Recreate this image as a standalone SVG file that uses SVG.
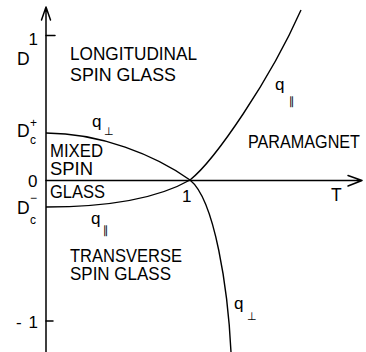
<svg xmlns="http://www.w3.org/2000/svg" width="366" height="352" viewBox="0 0 366 352">
<style>
.ax{stroke:#000;stroke-width:1.5;fill:none;stroke-linecap:round;stroke-linejoin:round}
.cv{stroke:#000;stroke-width:1.4;fill:none}
.t{font-family:"Liberation Sans",Arial,sans-serif;font-size:17.5px;fill:#000}
.s{font-family:"Liberation Sans",Arial,sans-serif;font-size:12px;fill:#000}
.q{font-family:"Liberation Sans",Arial,sans-serif;font-size:17px;fill:#000}
.sym{font-family:"DejaVu Sans",sans-serif;font-size:11px;fill:#000}
</style>
<rect width="366" height="352" fill="#fff"/>
<g id="connectors">
<path class="ax" d="M46,352 V7 M41.5,20 L46,7 L50.5,20"/>
<path class="ax" d="M46,180.5 H362 M348,175.5 L362,180.5 L348,186"/>
<path class="ax" d="M46,35.5 H55 M46,321 H53"/>
<path class="cv" d="M46,133 C100,133 155,155 190,180 C215,200 228,290 231,352"/>
<path class="cv" d="M46,207 C100,207 155,200 190,180 C215,160 270,80 301,10"/>
</g>
<g id="axis-labels">
<text class="t" x="17" y="65">D</text>
<text class="q" x="38" y="45" text-anchor="end">1</text>
<text class="t" x="17" y="137">D</text>
<text class="s" x="30" y="127">+</text>
<text class="s" x="30" y="144">c</text>
<text class="q" x="28" y="187">0</text>
<text class="t" x="17" y="214">D</text>
<text class="s" x="30" y="202">−</text>
<text class="s" x="30" y="224">c</text>
<text class="q" x="16" y="328">-</text>
<text class="q" x="38" y="328" text-anchor="end">1</text>
<text class="q" x="182" y="202">1</text>
<text class="t" x="331" y="201">T</text>
</g>
<g id="longitudinal">
<text class="t" x="70" y="60" textLength="127" lengthAdjust="spacingAndGlyphs">LONGITUDINAL</text>
<text class="t" x="70" y="81" textLength="106" lengthAdjust="spacingAndGlyphs">SPIN GLASS</text>
</g>
<g id="mixed">
<text class="t" x="50" y="157" textLength="53" lengthAdjust="spacingAndGlyphs">MIXED</text>
<text class="t" x="50" y="175" textLength="43" lengthAdjust="spacingAndGlyphs">SPIN</text>
<text class="t" x="50" y="198" textLength="55" lengthAdjust="spacingAndGlyphs">GLASS</text>
</g>
<g id="paramagnet">
<text class="t" x="248" y="148" textLength="112" lengthAdjust="spacingAndGlyphs">PARAMAGNET</text>
</g>
<g id="transverse">
<text class="t" x="70" y="262" textLength="112" lengthAdjust="spacingAndGlyphs">TRANSVERSE</text>
<text class="t" x="70" y="280" textLength="101" lengthAdjust="spacingAndGlyphs">SPIN GLASS</text>
</g>
<g id="curve-labels">
<text class="q" x="92" y="127">q</text><text class="sym" x="104" y="135">⊥</text>
<text class="q" x="91" y="224">q</text><text class="sym" x="103" y="234">∥</text>
<text class="q" x="275" y="90">q</text><text class="sym" x="289" y="105">∥</text>
<text class="q" x="234" y="309">q</text><text class="sym" x="247" y="320">⊥</text>
</g>
</svg>
